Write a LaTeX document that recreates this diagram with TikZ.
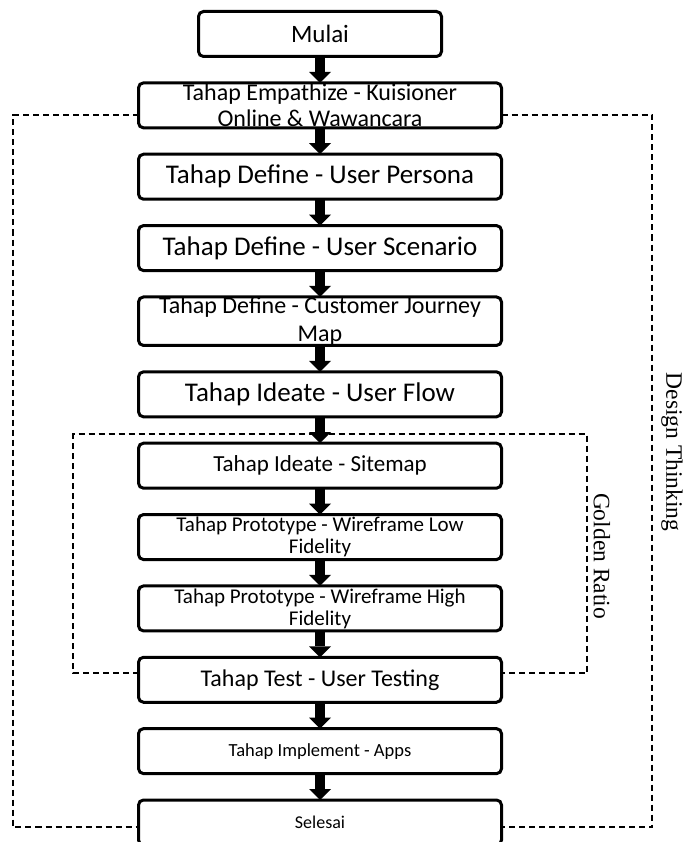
\documentclass[tikz,border=0pt]{standalone}
\usepackage{fontspec}
\setmainfont{Carlito}
\newfontfamily\labelfont{Liberation Serif}
\usetikzlibrary{positioning,arrows.meta}
\tikzset{
    tahap/.style = {draw, line width=3pt, rounded corners=5pt, rectangle, minimum width=363pt, minimum height=45pt, inner sep=0pt, outer sep=0pt, align=center},
    panah/.style = {line width=10pt, -{Triangle[width=22pt, length=11pt, line width=0pt]}},
    bingkai/.style = {dashed, line width=1.4pt, dash pattern=on 6pt off 4pt},
}

\begin{document}
\begin{tikzpicture}[x=1pt, y=-1pt, node distance=26.36pt]
\useasboundingbox (0,0) rectangle (687,842);

\node[tahap, minimum width=243pt, font=\fontsize{25pt}{27pt}\selectfont] (mulai) at (320,34) {Mulai};
\node[tahap, below=of mulai, font=\fontsize{24pt}{26pt}\selectfont] (empathize) {Tahap Empathize - Kuisioner\\Online \& Wawancara};
\node[tahap, below=of empathize, font=\fontsize{27pt}{29pt}\selectfont] (persona) {Tahap Define - User Persona};
\node[tahap, below=of persona, font=\fontsize{27pt}{29pt}\selectfont] (skenario) {Tahap Define - User Scenario};
\node[tahap, below=of skenario, font=\fontsize{24pt}{28pt}\selectfont] (cjm) {Tahap Define - Customer Journey\\Map};
\node[tahap, below=of cjm, font=\fontsize{27pt}{29pt}\selectfont] (userflow) {Tahap Ideate - User Flow};
\node[tahap, below=of userflow, font=\fontsize{23pt}{25pt}\selectfont] (sitemap) {Tahap Ideate - Sitemap};
\node[tahap, below=of sitemap, font=\fontsize{21pt}{22pt}\selectfont] (lowfi) {Tahap Prototype - Wireframe Low\\Fidelity};
\node[tahap, below=of lowfi, font=\fontsize{21pt}{22pt}\selectfont] (hifi) {Tahap Prototype - Wireframe High\\Fidelity};
\node[tahap, below=of hifi, font=\fontsize{24pt}{26pt}\selectfont] (testing) {Tahap Test - User Testing};
\node[tahap, below=of testing, font=\fontsize{18.5pt}{20pt}\selectfont] (implement) {Tahap Implement - Apps};
\node[tahap, below=of implement, font=\fontsize{18pt}{20pt}\selectfont] (selesai) {Selesai};

% design thinking frame
\coordinate (dt-nw) at (13,115);
\coordinate (dt-ne) at (652,115);
\coordinate (dt-sw) at (13,827);
\coordinate (dt-se) at (652,827);
\draw[bingkai] (empathize.west |- dt-nw) -- (dt-nw) -- (dt-sw) -- (selesai.west |- dt-sw);
\draw[bingkai] (empathize.east |- dt-ne) -- (dt-ne) -- (dt-se) -- (selesai.east |- dt-se);

% golden ratio frame
\coordinate (gr-nw) at (73,434);
\coordinate (gr-ne) at (587,434);
\coordinate (gr-sw) at (73,673);
\coordinate (gr-se) at (587,673);
\draw[bingkai, line width=1.2pt] (testing.west |- gr-sw) -- (gr-sw) -- (gr-nw) -- (gr-ne) -- (gr-se) -- (testing.east |- gr-se);

\node[rotate=-90, font=\labelfont\fontsize{23.5pt}{25pt}\selectfont] (dt-label) at (672,452) {Design Thinking};
\node[rotate=-90, font=\labelfont\fontsize{23.5pt}{25pt}\selectfont] (gr-label) at (602,556) {Golden Ratio};

\foreach \a/\b in {mulai/empathize, empathize/persona, persona/skenario, skenario/cjm, cjm/userflow, userflow/sitemap, sitemap/lowfi, lowfi/hifi, hifi/testing, testing/implement, implement/selesai}
    \draw[panah] (\a.south) -- (\b.north);
\end{tikzpicture}
\end{document}
